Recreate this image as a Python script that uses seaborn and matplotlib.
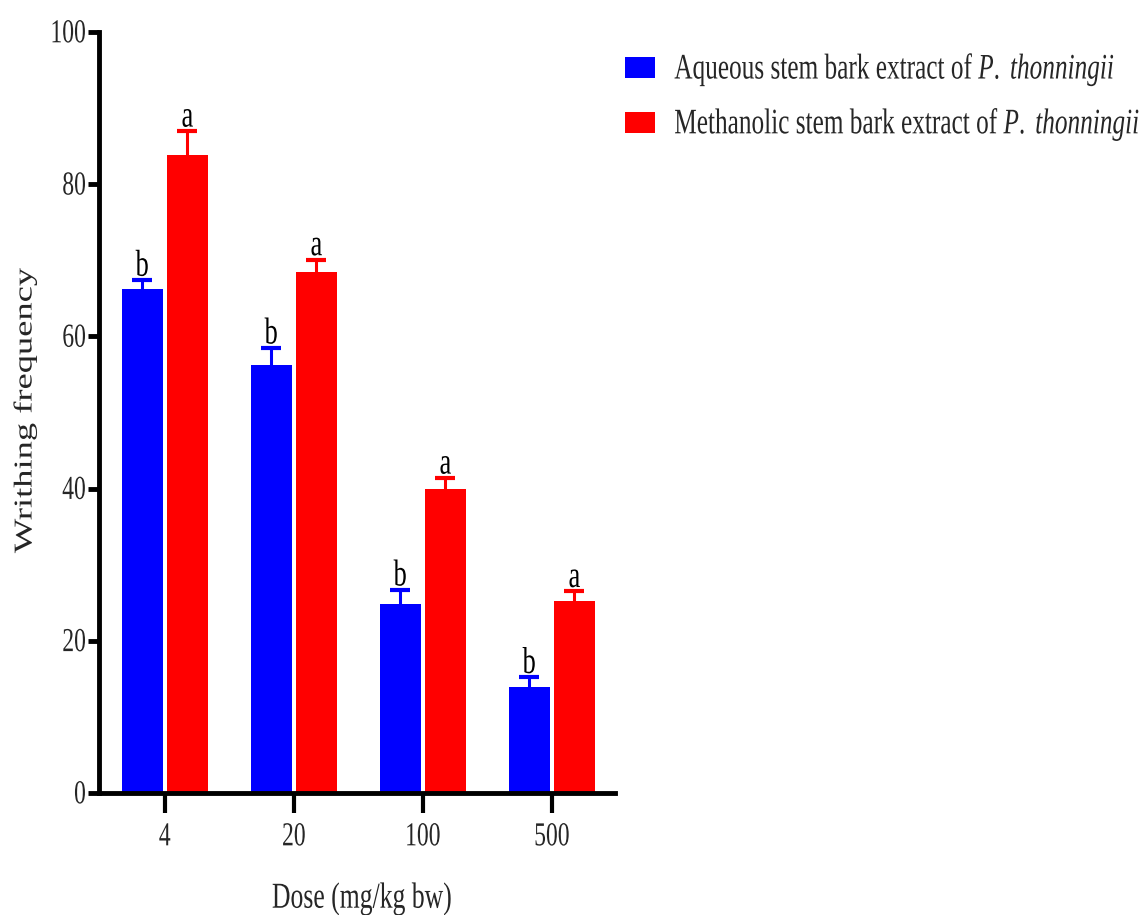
import numpy as np
import pandas as pd
import matplotlib
matplotlib.use("Agg")
import matplotlib.pyplot as plt
import seaborn as sns
from matplotlib.patheffects import AbstractPathEffect
from matplotlib.transforms import Affine2D
from matplotlib.text import Text

# ---- data -------------------------------------------------------------
doses = ["4", "20", "100", "500"]
extracts = [
    r"Aqueous stem bark extract of $\mathit{P.}$ $\mathit{thonningii}$",
    r"Methanolic stem bark extract of $\mathit{P.}$ $\mathit{thonningii}$",
]
aqueous_mean = [66.2, 56.3, 24.8, 13.9]
aqueous_sem = [1.2, 2.2, 1.9, 1.3]
methanolic_mean = [83.8, 68.5, 39.9, 25.2]
methanolic_sem = [3.2, 1.6, 1.5, 1.3]
aqueous_letters = ["b", "b", "b", "b"]
methanolic_letters = ["a", "a", "a", "a"]
colors = ["#0000FF", "#FF0000"]
y_ticks = [0, 20, 40, 60, 80, 100]

df = pd.DataFrame({
    "Dose": doses * 2,
    "Writhing": aqueous_mean + methanolic_mean,
    "Extract": [extracts[0]] * 4 + [extracts[1]] * 4,
})
means = [aqueous_mean, methanolic_mean]
sems = [aqueous_sem, methanolic_sem]
letters = [aqueous_letters, methanolic_letters]


# Tall, narrow serif lettering: stretch each text vertically about its centre
class VStretch(AbstractPathEffect):
    def __init__(self, text, k):
        super().__init__()
        self.text = text
        self.k = k

    def draw_path(self, renderer, gc, tpath, affine, rgbFace=None):
        bb = self.text.get_window_extent(renderer)
        cy = 0.5 * (bb.y0 + bb.y1)
        aff = affine + Affine2D().translate(0, -cy).scale(1, self.k).translate(0, cy)
        renderer.draw_path(gc, tpath, aff, rgbFace)


sns.set_theme(style="white")
plt.rcParams["font.family"] = ["Liberation Serif", "DejaVu Serif"]
plt.rcParams["mathtext.fontset"] = "custom"
plt.rcParams["mathtext.rm"] = "Liberation Serif"
plt.rcParams["mathtext.it"] = "Liberation Serif:italic"

fig = plt.figure(figsize=(11.43, 9.15), dpi=100)
fig.patch.set_facecolor("white")
ax = fig.add_axes([99 / 1143, 1 - 793 / 915, (615 - 99) / 1143, (793 - 32) / 915])

sns.barplot(data=df, x="Dose", y="Writhing", hue="Extract", order=doses,
            hue_order=extracts, palette=colors, width=0.7, gap=0.1,
            errorbar=None, linewidth=0, saturation=1, ax=ax)

handles, labels = ax.get_legend_handles_labels()
if ax.get_legend() is not None:
    ax.get_legend().remove()

# upper-only error bars and significance letters
for cont, m, s, lt, c in zip(ax.containers, means, sems, letters, colors):
    xs = [b.get_x() + b.get_width() / 2 for b in cont]
    _, caps, _ = ax.errorbar(xs, m, yerr=[np.zeros(len(s)), s], fmt="none", ecolor=c,
                             elinewidth=2.2, capsize=7.2, capthick=3, zorder=3)
    if len(caps) == 2:
        caps[0].set_visible(False)
    for x, mv, sv, l in zip(xs, m, s, lt):
        ax.text(x, mv + sv + 0.9, l, ha="center", va="baseline",
                fontsize=19, color="black", zorder=4)

ax.set_ylim(0, 100)
ax.set_xlim(-0.51, 3.49)
ax.set_yticks(y_ticks)
ax.set_yticklabels([str(v) for v in y_ticks])

for side in ["top", "right"]:
    ax.spines[side].set_visible(False)
for side in ["left", "bottom"]:
    ax.spines[side].set_linewidth(3.5)
    ax.spines[side].set_color("black")
    ax.spines[side].set_capstyle("projecting")

ax.tick_params(axis="y", direction="out", length=8, width=3.5, color="black",
               labelsize=17, pad=1.5, left=True)
ax.tick_params(axis="x", direction="out", length=14.5, width=3, color="black",
               labelsize=17, pad=10, bottom=True)

ax.set_xlabel("Dose (mg/kg bw)", fontsize=18.5)
ax.set_ylabel("Writhing frequency", fontsize=18.5)
ax.xaxis.set_label_coords((362 - 99) / 516, -(899 - 793) / 761)
ax.yaxis.set_label_coords((25 - 99) / 516, (793 - 410) / 761)
ax.xaxis.label.set_va("center")
ax.yaxis.label.set_va("center")

fig.legend(handles, labels, loc="upper left", bbox_to_anchor=(625 / 1143, 1 - 56 / 915),
           frameon=False, fontsize=18.2, handlelength=1.2, handleheight=0.9,
           handletextpad=0.75, labelspacing=1.1, borderpad=0, borderaxespad=0)

fig.canvas.draw()
for t in fig.findobj(Text):
    if t.get_text():
        t.set_path_effects([VStretch(t, 1.42)])

fig.savefig("out.png", dpi=100, facecolor="white")
